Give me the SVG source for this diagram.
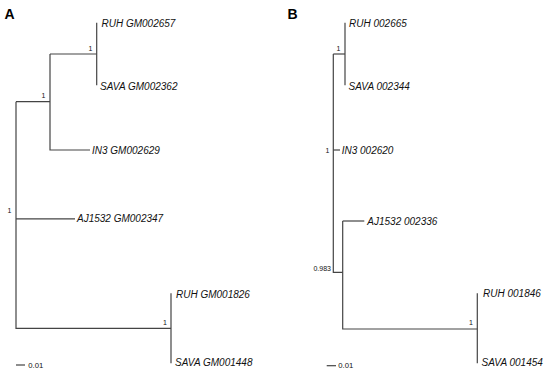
<svg xmlns="http://www.w3.org/2000/svg" width="550" height="375" viewBox="0 0 550 375">
<style>
.br{fill:none;stroke:#444;stroke-width:1.2}
.tip{font-family:"Liberation Sans",Arial,sans-serif;font-size:10px;font-style:italic;fill:#111}
.sup{font-family:"Liberation Sans",Arial,sans-serif;font-size:7px;fill:#111}
.pan{font-family:"Liberation Sans",Arial,sans-serif;font-size:14px;font-weight:bold;fill:#000}
</style>
<rect width="550" height="375" fill="#fff"/>
<text class="pan" x="4.5" y="18.5">A</text>
<text class="pan" x="287.5" y="18.5">B</text>
<g id="connectors">
<!-- Panel A -->
<path class="br" d="M96.7,22.7V85.3"/>
<path class="br" d="M50,54H96.7"/>
<path class="br" d="M50,54V150H90"/>
<path class="br" d="M16,101.7H50"/>
<path class="br" d="M16,101.7V328.3H171"/>
<path class="br" d="M16,218.8H75"/>
<path class="br" d="M171,293.3V363.3"/>
<path class="br" d="M16,365H25"/>
<!-- Panel B -->
<path class="br" d="M345,22.7V85.3"/>
<path class="br" d="M333.3,54H345"/>
<path class="br" d="M333.3,54V272.3H342.7"/>
<path class="br" d="M333.3,150H340"/>
<path class="br" d="M342.7,221V329H477.3"/>
<path class="br" d="M342.7,221H364.3"/>
<path class="br" d="M477.3,293.3V363.3"/>
<path class="br" d="M326.7,365.7H336"/>
</g>
<g id="a-tips">
<g id="a-ruh2657"><text class="tip" x="101.5" y="26.6">RUH GM002657</text></g>
<g id="a-sava2362"><text class="tip" x="100" y="89.6">SAVA GM002362</text></g>
<g id="a-in3"><text class="tip" x="92" y="153.6">IN3 GM002629</text></g>
<g id="a-aj"><text class="tip" x="77" y="222.4">AJ1532 GM002347</text></g>
<g id="a-ruh1826"><text class="tip" x="176" y="297.6">RUH GM001826</text></g>
<g id="a-sava1448"><text class="tip" x="175" y="366.3">SAVA GM001448</text></g>
</g>
<g id="a-support">
<text class="sup" x="88.5" y="50.5">1</text>
<text class="sup" x="41.5" y="97.5">1</text>
<text class="sup" x="7.5" y="213">1</text>
<text class="sup" x="163" y="324.5">1</text>
<text class="sup" x="28.3" y="367.8" style="font-size:7.7px">0.01</text>
</g>
<g id="b-tips">
<g id="b-ruh2665"><text class="tip" x="349" y="26.6">RUH 002665</text></g>
<g id="b-sava2344"><text class="tip" x="348.5" y="89.6">SAVA 002344</text></g>
<g id="b-in3"><text class="tip" x="341.7" y="153.6">IN3 002620</text></g>
<g id="b-aj"><text class="tip" x="367.3" y="224.6">AJ1532 002336</text></g>
<g id="b-ruh1846"><text class="tip" x="483" y="297">RUH 001846</text></g>
<g id="b-sava1454"><text class="tip" x="481.5" y="366.3">SAVA 001454</text></g>
</g>
<g id="b-support">
<text class="sup" x="336.5" y="50.5">1</text>
<text class="sup" x="325.5" y="152.5">1</text>
<text class="sup" x="331" y="270.8" text-anchor="end">0.983</text>
<text class="sup" x="469" y="324.5">1</text>
<text class="sup" x="338.3" y="368.3" style="font-size:7.7px">0.01</text>
</g>
</svg>
